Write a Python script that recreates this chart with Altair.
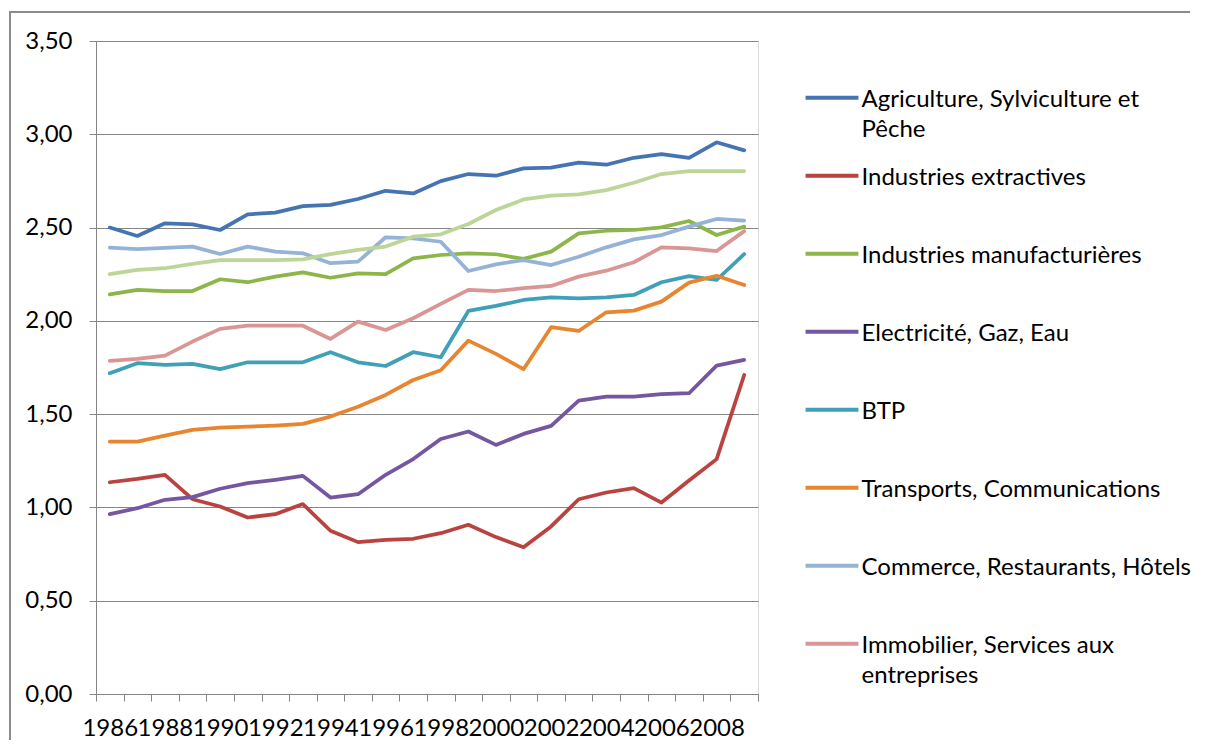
import altair as alt
import pandas as pd

years = [str(y) for y in range(1986, 2010)]

agriculture = [2.50, 2.455, 2.523, 2.517, 2.487, 2.571, 2.580, 2.615, 2.622, 2.653, 2.697, 2.683,
               2.749, 2.787, 2.778, 2.817, 2.821, 2.848, 2.837, 2.874, 2.894, 2.874, 2.957, 2.914]
extractives = [1.135, 1.153, 1.175, 1.044, 1.005, 0.946, 0.964, 1.018, 0.875, 0.814, 0.826, 0.832,
               0.862, 0.907, 0.841, 0.787, 0.898, 1.044, 1.080, 1.103, 1.026, 1.144, 1.259, 1.710]
manufacturieres = [2.142, 2.166, 2.160, 2.160, 2.223, 2.207, 2.237, 2.260, 2.231, 2.255, 2.250, 2.335,
                   2.353, 2.362, 2.357, 2.332, 2.371, 2.469, 2.483, 2.487, 2.501, 2.535, 2.460, 2.505]
electricite = [0.964, 0.996, 1.041, 1.055, 1.100, 1.130, 1.148, 1.169, 1.053, 1.071, 1.175, 1.259,
               1.367, 1.407, 1.335, 1.394, 1.437, 1.573, 1.594, 1.594, 1.607, 1.612, 1.760, 1.791]
btp = [1.719, 1.773, 1.764, 1.769, 1.741, 1.778, 1.778, 1.778, 1.832, 1.778, 1.758, 1.832,
       1.805, 2.053, 2.080, 2.112, 2.126, 2.121, 2.126, 2.139, 2.207, 2.240, 2.219, 2.358]
transports = [1.353, 1.353, 1.385, 1.416, 1.428, 1.433, 1.439, 1.448, 1.487, 1.540, 1.603, 1.683,
              1.735, 1.894, 1.823, 1.741, 1.966, 1.946, 2.046, 2.055, 2.103, 2.205, 2.242, 2.192]
commerce = [2.392, 2.385, 2.391, 2.398, 2.358, 2.398, 2.371, 2.362, 2.309, 2.317, 2.448, 2.442,
            2.424, 2.267, 2.303, 2.326, 2.299, 2.344, 2.394, 2.437, 2.460, 2.505, 2.546, 2.537]
immobilier = [1.785, 1.796, 1.814, 1.889, 1.957, 1.974, 1.974, 1.974, 1.903, 1.996, 1.951, 2.014,
              2.091, 2.166, 2.160, 2.175, 2.187, 2.237, 2.269, 2.314, 2.394, 2.389, 2.374, 2.481]
autre = [2.250, 2.273, 2.282, 2.305, 2.326, 2.326, 2.326, 2.330, 2.358, 2.380, 2.398, 2.451,
         2.464, 2.519, 2.594, 2.651, 2.671, 2.678, 2.701, 2.740, 2.787, 2.803, 2.803, 2.803]

names = [
    "Agriculture, Sylviculture et Pêche",
    "Industries extractives",
    "Industries manufacturières",
    "Electricité, Gaz, Eau",
    "BTP",
    "Transports, Communications",
    "Commerce, Restaurants, Hôtels",
    "Immobilier, Services aux entreprises",
]
colors = ["#4674B2", "#BA4340", "#8CB64A", "#7457A0", "#3FA0B8", "#E88530", "#95B3D7", "#D99694"]
extra_color = "#BDD597"
y_ticks = [0, 0.5, 1.0, 1.5, 2.0, 2.5, 3.0, 3.5]

series = [agriculture, extractives, manufacturieres, electricite, btp, transports, commerce, immobilier]
rows = []
for name, vals in zip(names, series):
    for yr, v in zip(years, vals):
        rows.append({"annee": yr, "serie": name, "valeur": v})
df = pd.DataFrame(rows)
df_extra = pd.DataFrame({"annee": years, "valeur": autre})

FONT = "Lato"
FS = 24
GRAY = "#868686"
W, H = 662, 653
PAD = {"left": 88, "top": 33, "right": 438, "bottom": 48}

x_enc = alt.X(
    "annee:O",
    scale=alt.Scale(type="band", paddingInner=0, paddingOuter=0),
    bandPosition=0.5,
    axis=alt.Axis(
        title=None, labelAngle=0, tickBand="extent", labelOverlap=False, labelBound=False,
        labelExpr="toNumber(datum.value) % 2 == 0 ? datum.label : ''",
        labelFont=FONT, labelFontSize=FS, labelColor="#000000", labelPadding=15,
        tickSize=7, tickColor=GRAY, domainColor=GRAY, grid=False,
    ),
)
y_enc = alt.Y(
    "valeur:Q",
    scale=alt.Scale(domain=[0, 3.5], nice=False),
    axis=alt.Axis(
        title=None, values=y_ticks,
        labelExpr="replace(format(datum.value, '.2f'), '.', ',')",
        labelFont=FONT, labelFontSize=FS, labelColor="#000000", labelPadding=17,
        tickSize=7, tickColor=GRAY, domainColor=GRAY, gridColor=GRAY, grid=True,
    ),
)

label_expr = (
    "datum.label == 'Agriculture, Sylviculture et Pêche' ? ['Agriculture, Sylviculture et', 'Pêche'] : "
    "datum.label == 'Immobilier, Services aux entreprises' ? ['Immobilier, Services aux', 'entreprises'] : "
    "datum.label"
)

# outer chart-area frame edges (decoration, like the spreadsheet chart border)
one = pd.DataFrame({"k": [0]})
frame_left = alt.Chart(one).mark_rule(stroke="#8C8C8C", strokeWidth=2, clip=False).encode(
    x=alt.value(-86), y=alt.value(-30), y2=alt.value(H + PAD["bottom"] - 2)
)
frame_top = alt.Chart(one).mark_rule(stroke="#8C8C8C", strokeWidth=2, clip=False).encode(
    x=alt.value(-87), x2=alt.value(W + PAD["right"] - 6), y=alt.value(-29)
)

lines = alt.Chart(df).mark_line(strokeWidth=3.75, strokeCap="round", strokeJoin="round").encode(
    x=x_enc,
    y=y_enc,
    color=alt.Color(
        "serie:N",
        scale=alt.Scale(domain=names, range=colors),
        legend=alt.Legend(
            title=None, orient="none", legendX=712.5, legendY=23, direction="vertical", columns=1,
            symbolType="M-1.23,0.48L1.23,0.48", symbolSize=1849, symbolStrokeWidth=4,
            labelFont=FONT, labelFontSize=FS, labelColor="#000000", labelBaseline="top",
            labelOffset=6, labelLimit=500, rowPadding=-5, gridAlign="all", padding=0,
            labelExpr=label_expr,
        ),
    ),
)

extra = alt.Chart(df_extra).mark_line(strokeWidth=3.75, strokeCap="round", strokeJoin="round", color=extra_color).encode(
    x=x_enc, y=y_enc,
)

chart = alt.layer(frame_left, frame_top, lines, extra).properties(
    width=W, height=H,
    autosize=alt.AutoSizeParams(type="none"),
    padding=PAD,
).configure_view(strokeWidth=0).configure(
    style={"guide-label": {"lineHeight": 30}}
)

chart.save("out.html", embed_options={"renderer": "svg", "actions": False})
